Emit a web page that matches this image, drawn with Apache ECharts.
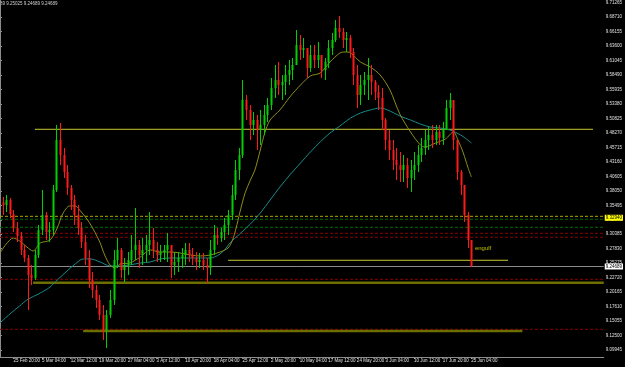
<!DOCTYPE html>
<html><head><meta charset="utf-8">
<script src="https://cdn.jsdelivr.net/npm/echarts@6/dist/echarts.min.js"></script>
<style>html,body{margin:0;padding:0;background:#000;}#c{width:625px;height:367px;}</style>
</head><body><div id="c"></div>
<script>
// ---- data ----
const xLabelIdx = [15,47,79,111,143,175,207,239,271,303,335,367,399,431,463,495,527];
const xLabels = ['25 Feb 20:00','5 Mar 04:00','12 Mar 12:00','19 Mar 20:00','27 Mar 04:00','3 Apr 12:00','10 Apr 20:00','18 Apr 04:00','25 Apr 12:00','2 May 20:00','10 May 04:00','17 May 12:00','24 May 20:00','3 Jun 04:00','10 Jun 12:00','17 Jun 20:00','25 Jun 04:00'];
const yTicks = [9.09945,9.12500,9.15055,9.17610,9.20165,9.22720,9.25275,9.27830,9.30385,9.32940,9.35495,9.38050,9.40605,9.43160,9.45715,9.48270,9.50825,9.53380,9.55935,9.58490,9.61045,9.63600,9.66155,9.68710,9.71265];

const firstOpen = 9.3600;
const highs = [9.3696,9.3732,9.3679,9.3467,9.3255,9.3078,9.2849,9.2672,9.2496,9.2761,
9.3202,9.3820,9.3431,9.3255,9.3908,9.4968,9.5003,9.4562,9.4261,9.3908,
9.3732,9.3555,9.3255,9.3025,9.2761,9.2372,9.2142,9.1966,9.1789,9.1701,
9.2054,9.2761,9.2972,9.2796,9.2619,9.2725,9.3025,9.3502,9.2937,9.2972,
9.3025,9.3431,9.3149,9.2902,9.2849,9.2849,9.3061,9.2796,9.2725,9.2725,
9.2796,9.2884,9.2884,9.2796,9.2725,9.2708,9.2708,9.2619,9.2937,9.3202,
9.3149,9.3149,9.3326,9.3467,9.3908,9.4350,9.4562,9.5762,9.5497,9.5321,
9.5197,9.5144,9.5233,9.5321,9.5444,9.5798,9.6027,9.6080,9.5851,9.6027,
9.6116,9.6151,9.6645,9.6557,9.6504,9.6327,9.6380,9.6380,9.6433,9.6204,
9.6151,9.6469,9.6592,9.6822,9.6893,9.6681,9.6610,9.6557,9.6327,9.6027,
9.5851,9.5904,9.6151,9.6027,9.5762,9.5674,9.5621,9.5091,9.4880,9.4703,
9.4562,9.4491,9.4438,9.4385,9.4350,9.4491,9.4615,9.4738,9.4880,9.4932,
9.4968,9.4968,9.4968,9.5021,9.5409,9.5533,9.5409,9.4703,9.4173,9.3908,
9.3431,9.2937];
const lows = [9.3378,9.3431,9.3326,9.3078,9.2902,9.2672,9.2549,9.1701,9.2142,9.2231,
9.2619,9.3025,9.2937,9.2902,9.3025,9.3785,9.4261,9.4032,9.3732,9.3467,
9.3202,9.3025,9.2796,9.2496,9.2090,9.1913,9.1736,9.1524,9.1171,9.1030,
9.1560,9.1789,9.2443,9.2266,9.2195,9.2319,9.2496,9.2584,9.2443,9.2496,
9.2549,9.2672,9.2619,9.2549,9.2549,9.2584,9.2549,9.2266,9.2319,9.2372,
9.2443,9.2496,9.2549,9.2496,9.2407,9.2443,9.2407,9.2178,9.2319,9.2672,
9.2849,9.2902,9.2937,9.3025,9.3290,9.3643,9.3997,9.4385,9.5056,9.4703,
9.4791,9.4526,9.4615,9.4791,9.5021,9.5233,9.5444,9.5497,9.5409,9.5497,
9.5674,9.5762,9.6027,9.6116,9.6151,9.5798,9.5904,9.5974,9.5974,9.5798,
9.5762,9.5974,9.6204,9.6433,9.6504,9.6327,9.6257,9.6151,9.5674,9.5268,
9.5321,9.5497,9.5409,9.5497,9.5409,9.5233,9.4880,9.4526,9.4350,9.4173,
9.3997,9.3961,9.3961,9.3855,9.3785,9.3997,9.4138,9.4314,9.4438,9.4526,
9.4562,9.4615,9.4615,9.4615,9.4880,9.5056,9.4526,9.3997,9.3732,9.3255,
9.2796,9.24689];
const closes = [9.3555,9.3643,9.3396,9.3149,9.3008,9.2761,9.2619,9.2319,9.2266,9.2672,
9.3114,9.3378,9.3078,9.3114,9.3820,9.4703,9.4438,9.4138,9.3855,9.3643,
9.3378,9.3149,9.2902,9.2619,9.2231,9.2054,9.1878,9.1613,9.1348,9.1613,
9.1878,9.2584,9.2761,9.2407,9.2496,9.2584,9.2761,9.2849,9.2672,9.2761,
9.2849,9.2937,9.2761,9.2672,9.2725,9.2761,9.2849,9.2496,9.2549,9.2619,
9.2672,9.2761,9.2672,9.2619,9.2549,9.2584,9.2496,9.2443,9.2761,9.3025,
9.2972,9.3078,9.3202,9.3378,9.3732,9.4173,9.4438,9.5409,9.5233,9.4968,
9.5056,9.4880,9.4968,9.5144,9.5321,9.5621,9.5762,9.5674,9.5727,9.5851,
9.5939,9.6027,9.6380,9.6292,9.6327,9.5974,9.6204,9.6116,9.6204,9.5939,
9.6080,9.6327,9.6469,9.6681,9.6610,9.6469,9.6504,9.6257,9.5851,9.5497,
9.5674,9.5762,9.5851,9.5727,9.5551,9.5444,9.5056,9.4703,9.4526,9.4350,
9.4261,9.4173,9.4261,9.4032,9.4173,9.4261,9.4438,9.4562,9.4703,9.4791,
9.4703,9.4844,9.4738,9.4880,9.5268,9.5409,9.4703,9.4138,9.3908,9.3378,
9.2937,9.24689];
const candleFirstBar = 3, barsPerCandle = 4;

const oliveIdx = [0,15,22,30,37,45,56,64,70,78,84,89,98,106,112,117,123,129,134,145,157,168,179,190,201,213,224,235,246,255,260,264,268,274,280,285,291,296,302,313,324,336,347,358,369,380,386,392,403,414,425,436,447,459,470,475,487,498,507,512,518,523,527];
const oliveVal = [9.2708,9.2972,9.2919,9.2814,9.2743,9.2884,9.2937,9.3149,9.3396,9.3538,9.3538,9.3467,9.3290,9.3078,9.2884,9.2672,9.2496,9.2443,9.2513,9.2531,9.2637,9.2761,9.2725,9.2725,9.2708,9.2672,9.2655,9.2672,9.2725,9.2796,9.2937,9.3149,9.3414,9.3767,9.3997,9.4173,9.4526,9.4827,9.5056,9.5233,9.5462,9.5674,9.5833,9.5886,9.6080,9.6239,9.6257,9.6239,9.6080,9.5992,9.5851,9.5586,9.5162,9.4844,9.4615,9.4579,9.4650,9.4721,9.4844,9.4703,9.4473,9.4226,9.4050];
const tealIdx = [0,11,22,30,45,56,64,75,84,93,101,112,123,134,145,157,168,179,190,213,235,240,246,252,257,268,280,291,302,313,324,336,347,358,369,380,392,403,414,425,436,447,459,470,481,492,503,515,520,527];
const tealVal = [9.1472,9.1630,9.1772,9.1878,9.2001,9.2107,9.2231,9.2390,9.2513,9.2602,9.2602,9.2549,9.2478,9.2478,9.2496,9.2531,9.2549,9.2602,9.2619,9.2619,9.2619,9.2637,9.2690,9.2778,9.2884,9.3043,9.3220,9.3414,9.3643,9.3873,9.4085,9.4297,9.4491,9.4668,9.4827,9.4950,9.5091,9.5180,9.5233,9.5268,9.5215,9.5127,9.5056,9.4985,9.4932,9.4915,9.4880,9.4791,9.4738,9.4650];

const solidLevels = [9.4892, 9.2579];
const solidFrom = [39, 255];
const solidTo = [663, 568];
const thickLevels = [9.2183, 9.1330];
const thickFrom = [37, 93];
const thickTo = [675, 584];
const yellowDash = [9.3355];
const greenDash = [9.3303, 9.3161];
const redDash = [9.3055, 9.2985, 9.2243, 9.1360];
const bidPrice = 9.24689;
const tagPrice = 9.32940;
const noteIdx = 531, notePrice = 9.2796, noteText = 'engulf';
const headerText = '89 9.25025 9.24689 9.24689';
const xMin = 0, xMax = 675, yMin = 9.08709, yMax = 9.7175;

// ---- build ----
const candles = closes.map((c, j) => [candleFirstBar + barsPerCandle * j, j === 0 ? firstOpen : closes[j - 1], c, lows[j], highs[j]]);
const BULL = '#00d000', BEAR = '#ff1a1a';
const FONT = 'Liberation Sans';

function hSeg(v, a, b, color, width, type, z) {
  return { type: 'line', data: [[a, v], [b, v]], symbol: 'none', silent: true, z: z || 2,
    lineStyle: { color, width, type: type || 'solid' } };
}
const series = [];
redDash.forEach(v => series.push(hSeg(v, xMin, xMax, '#8b0000', 1, [3, 2], 1)));
greenDash.forEach(v => series.push(hSeg(v, xMin, xMax, '#006a00', 1, [3, 2], 1)));
yellowDash.forEach(v => series.push(hSeg(v, xMin, xMax, '#a8a800', 1, [3, 2], 1)));
thickLevels.forEach((v, i) => series.push(hSeg(v, thickFrom[i], thickTo[i], '#6e6e00', 2.5, 'solid', 1)));
solidLevels.forEach((v, i) => series.push(hSeg(v, solidFrom[i], solidTo[i], '#c8c832', 1, 'solid', 1)));
series.push(Object.assign(hSeg(bidPrice, xMin, xMax, '#8a8a8a', 1, 'solid', 1), {
  endLabel: { show: true, formatter: p => p.value[1].toFixed(5), color: '#000', backgroundColor: '#ffffff',
    fontSize: 4.5, fontFamily: FONT, padding: [1, 1, 0, 1], distance: 1 }
}));
series.push({ type: 'line', data: [[xMin, tagPrice], [xMax, tagPrice]], symbol: 'none', silent: true, z: 20,
  lineStyle: { opacity: 0 },
  endLabel: { show: true, formatter: p => p.value[1].toFixed(5), color: '#000', backgroundColor: '#ffff00',
    fontSize: 4.5, fontFamily: FONT, padding: [1, 1, 0, 1], distance: 1, offset: [0, -2] } });
series.push({ type: 'line', data: tealIdx.map((x, i) => [x, tealVal[i]]), symbol: 'none', smooth: 0.3, silent: true, z: 3,
  lineStyle: { color: '#168a8a', width: 1 } });
series.push({ type: 'line', data: oliveIdx.map((x, i) => [x, oliveVal[i]]), symbol: 'none', smooth: 0.3, silent: true, z: 3,
  lineStyle: { color: '#8c8c1e', width: 1 } });
series.push({
  type: 'custom', data: candles, z: 4, silent: true,
  encode: { x: 0, y: [1, 2, 3, 4] },
  renderItem: (params, api) => {
    const x = api.value(0), o = api.value(1), c = api.value(2), l = api.value(3), h = api.value(4);
    const pO = api.coord([x, o]), pC = api.coord([x, c]), pL = api.coord([x, l]), pH = api.coord([x, h]);
    const col = c >= o ? BULL : BEAR;
    const cx = Math.round(pO[0]);
    const top = Math.min(pO[1], pC[1]), hgt = Math.max(1, Math.abs(pO[1] - pC[1]));
    return { type: 'group', children: [
      { type: 'line', shape: { x1: cx + 0.5, y1: pH[1], x2: cx + 0.5, y2: pL[1] }, style: { stroke: col, lineWidth: 1 } },
      { type: 'rect', shape: { x: cx - 0.5, y: top, width: 2, height: hgt }, style: { fill: col } }
    ] };
  }
});
series.push({ type: 'scatter', data: [[noteIdx, notePrice]], symbolSize: 0, silent: true, z: 10,
  label: { show: true, position: 'right', distance: 0, formatter: () => noteText, color: '#e6e600', fontSize: 6, fontFamily: FONT } });

const chart = echarts.init(document.getElementById('c'), null, { renderer: 'canvas' });
chart.setOption({
  backgroundColor: '#000',
  animation: false,
  grid: { left: 0, top: 0, right: 21, bottom: 10, containLabel: false },
  xAxis: {
    type: 'value', min: xMin, max: xMax, position: 'bottom',
    axisLine: { show: true, lineStyle: { color: '#8c8c8c', width: 1 } },
    axisTick: { show: true, customValues: xLabelIdx, length: 2, inside: false, lineStyle: { color: '#8c8c8c' } },
    splitLine: { show: false },
    axisLabel: { customValues: xLabelIdx, formatter: v => xLabels[xLabelIdx.indexOf(Math.round(v))] || '',
      align: 'left', margin: 1, color: '#e0e0e0', fontSize: 4.5, fontFamily: FONT }
  },
  yAxis: {
    type: 'value', min: yMin, max: yMax, position: 'right', scale: true,
    axisLine: { show: true, lineStyle: { color: '#8c8c8c', width: 1 } },
    axisTick: { show: true, customValues: yTicks, length: 2, lineStyle: { color: '#8c8c8c' } },
    splitLine: { show: false },
    axisLabel: { customValues: yTicks, formatter: v => v.toFixed(5), align: 'left', margin: 2,
      color: '#e0e0e0', fontSize: 4.5, fontFamily: FONT }
  },
  graphic: [{ type: 'text', left: 0, top: 1, style: { text: headerText, fill: '#d0d0d0', fontSize: 4.5, fontFamily: FONT } }],
  series
});
</script></body></html>
